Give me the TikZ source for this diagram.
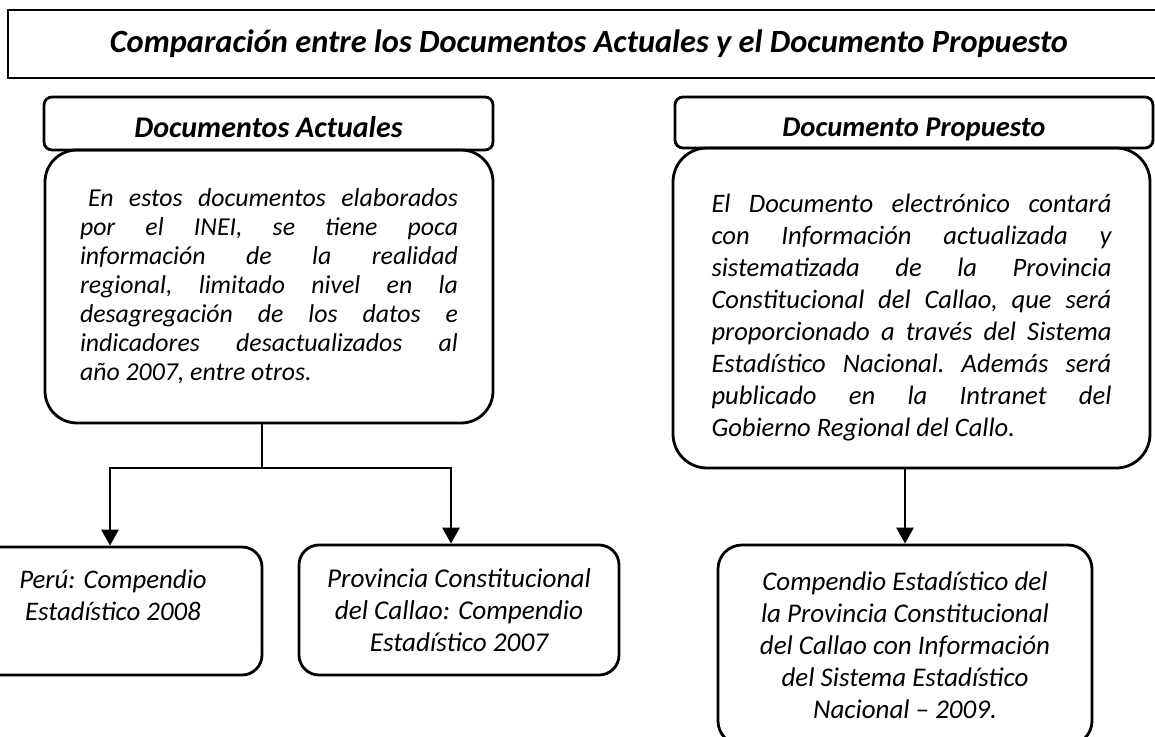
\documentclass[tikz,border=0pt]{standalone}
\usepackage{fontspec}
\setmainfont{Carlito}
\usetikzlibrary{arrows.meta}

\begin{document}
\begin{tikzpicture}[x=0.5pt, y=-0.5pt,
  box/.style={draw, line width=1.4pt, inner sep=0pt, align=center},
  head/.style={box, rounded corners=4pt, text height=14pt, text depth=0pt},
  arr/.style={-{Triangle[width=8.5pt,length=8pt]}, line width=1.4pt}]
  \useasboundingbox (0,0) rectangle (1155,737);
  \node[box, minimum width=581pt, minimum height=34pt, font=\fontsize{16.2}{19}\selectfont\bfseries\itshape] (title) at (589,44) {Comparación entre los Documentos Actuales y el Documento Propuesto};
  % documentos actuales
  \node[box, rounded corners=16pt, minimum width=224pt, minimum height=136.5pt, text width=189pt, align=justify, font=\fontsize{12.9}{14.5}\selectfont\itshape\frenchspacing] (actBody) at (269,286.5)
    {\hyphenpenalty=10000\relax\hspace*{4pt}En estos documentos elaborados\linebreak por el INEI, se tiene poca\linebreak información de la realidad\linebreak regional, limitado nivel en la\linebreak desagregación de los datos e\linebreak indicadores desactualizados al\linebreak año 2007, entre otros.};
  \node[head, minimum width=224.5pt, minimum height=26.5pt, font=\fontsize{15}{18}\selectfont\bfseries\itshape] (actHead) at (268.5,123.5) {Documentos Actuales};
  \node[box, rounded corners=10pt, minimum width=149pt, minimum height=64pt, font=\fontsize{13.4}{16}\selectfont\itshape] (peru) at (113,611) {Perú: Compendio\\Estadístico 2008\\ \mbox{}};
  \node[box, rounded corners=10pt, minimum width=160pt, minimum height=65pt, font=\fontsize{13.6}{16}\selectfont\itshape] (callao) at (459,610) {Provincia Constitucional\\del Callao: Compendio\\Estadístico 2007};
  % documento propuesto
  \node[box, rounded corners=17pt, minimum width=238.5pt, minimum height=160pt, text width=200pt, align=justify, font=\fontsize{13.3}{16}\selectfont\itshape\frenchspacing] (propBody) at (911.5,308)
    {\rule{0pt}{19pt}El Documento electrónico contará\linebreak con Información actualizada y\linebreak sistematizada de la Provincia\linebreak Constitucional del Callao, que será\linebreak proporcionado a través del Sistema\linebreak Estadístico Nacional. Además será\linebreak publicado en la Intranet del\linebreak Gobierno Regional del Callo.};
  \node[head, minimum width=239pt, minimum height=25.5pt, font=\fontsize{14.3}{17}\selectfont\bfseries\itshape] (propHead) at (914,122.5) {Documento Propuesto};
  \node[box, rounded corners=12pt, minimum width=187pt, minimum height=100pt, font=\fontsize{13.5}{16}\selectfont\itshape] (compendio) at (905,645) {Compendio Estadístico del\\la Provincia Constitucional\\del Callao con Información\\del Sistema Estadístico\\Nacional -- 2009.};
  % conectores
  \coordinate (fork) at (262,468);
  \draw[line width=1.4pt] (fork |- actBody.south) -- (fork);
  \draw[arr] (fork) -| ([xshift=-1.5pt]peru.north);
  \draw[arr] (fork) -| ([xshift=-4pt]callao.north);
  \draw[arr] (compendio.north |- propBody.south) -- (compendio.north);
\end{tikzpicture}
\end{document}
